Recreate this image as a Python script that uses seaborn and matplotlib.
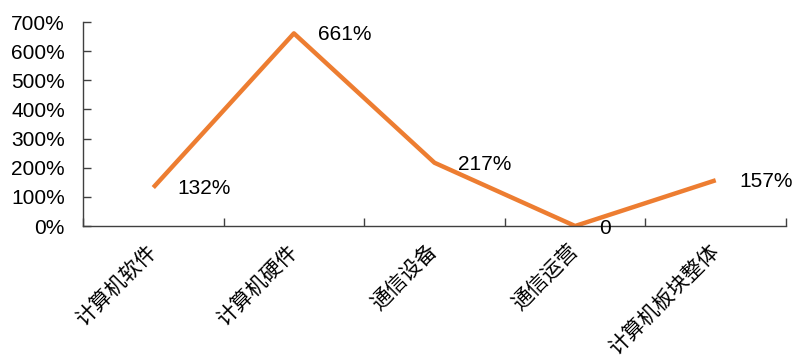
import matplotlib
matplotlib.use("Agg")
import matplotlib.pyplot as plt
import seaborn as sns
import pandas as pd

categories = ["计算机软件", "计算机硬件", "通信设备", "通信运营", "计算机板块整体"]
values = [132, 661, 217, 0, 157]
value_labels = ["132%", "661%", "217%", "0", "157%"]
yticks = [0, 100, 200, 300, 400, 500, 600, 700]
ytick_labels = ["0%", "100%", "200%", "300%", "400%", "500%", "600%", "700%"]

sns.set_style("white")
plt.rcParams['font.family'] = ['Liberation Sans', 'Noto Sans CJK SC', 'DejaVu Sans']

df = pd.DataFrame({"cat": categories, "val": values, "pos": range(len(categories))})

fig = plt.figure(figsize=(7.94, 3.56), dpi=100)
ax = fig.add_axes([83/794, 1-226/356, (786-83)/794, (226-22)/356])

sns.lineplot(data=df, x="pos", y="val", ax=ax, color="#ED7D31", linewidth=3.2,
             solid_capstyle="butt")

for i, (v, lab) in enumerate(zip(values, value_labels)):
    dy = -2 if v == 0 else -1
    ax.annotate(lab, (i, v), xytext=(17, dy), textcoords="offset points",
                ha="left", va="center", fontsize=15, color="black",
                family=['Liberation Sans', 'DejaVu Sans'], annotation_clip=False)

ax.set_xlim(-0.5, len(categories) - 0.5)
ax.set_ylim(0, 700)
ax.set_yticks(yticks)
ax.set_yticklabels(ytick_labels, fontsize=15, color="black")
ax.set_xticks(range(len(categories)))
ax.set_xticklabels(categories, rotation=45, ha="right", va="center",
                   rotation_mode="anchor", fontsize=15, color="black",
                   family=['Noto Sans CJK SC', 'DejaVu Sans'])
ax.set_xticks([i - 0.5 for i in range(len(categories) + 1)], minor=True)
ax.tick_params(axis="x", which="major", bottom=True, length=0, pad=16)
ax.tick_params(axis="x", which="minor", bottom=True, direction="in", length=6, width=1, color="#404040")
ax.tick_params(axis="y", which="major", left=True, direction="in", length=6, width=1, color="#404040", pad=13)
ax.set_xlabel("")
ax.set_ylabel("")
for s in ["top", "right"]:
    ax.spines[s].set_visible(False)
for s in ["left", "bottom"]:
    ax.spines[s].set_color("#404040")
    ax.spines[s].set_linewidth(1)
ax.grid(False)

fig.savefig("out.png", dpi=100)
